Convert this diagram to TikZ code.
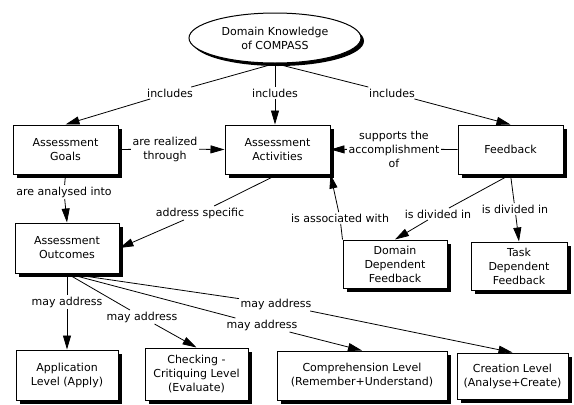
\documentclass[tikz,border=0pt]{standalone}
\usepackage{fontspec}
\setmainfont{DejaVu Sans}
\usetikzlibrary{arrows.meta,shapes.geometric,shadows}
\begin{document}
\begin{tikzpicture}[x=1pt,y=-1pt,
  txt/.style={font=\fontsize{11}{14}\selectfont, align=center},
  sh/.style={drop shadow={shadow xshift=4pt,shadow yshift=-4pt,fill=black,opacity=1}},
  box/.style={txt, draw=black, line width=1pt, fill=white, inner sep=0pt, sh},
  ell/.style={txt, ellipse, draw=black, line width=1pt, fill=white, inner sep=0pt,
     drop shadow={shadow xshift=3pt,shadow yshift=-3pt,fill=black,opacity=1}},
  lab/.style={txt, inner sep=1.5pt},
  con/.style={line width=0.8pt},
  arr/.style={con, -{Triangle[length=14pt,width=8pt]}}
]
\useasboundingbox[fill=white] (0,0) rectangle (574,405);

% concepts
\node[ell, minimum width=172pt, minimum height=50pt] (dk) at (275,38) {Domain Knowledge\\of COMPASS};
\node[box, minimum width=105pt, minimum height=49pt] (goals) at (65.5,149.5) {Assessment\\Goals};
\node[box, minimum width=105pt, minimum height=49pt] (act) at (277.5,149.5) {Assessment\\Activities};
\node[box, minimum width=105pt, minimum height=49pt] (fb) at (510.5,149.5) {Feedback};
\node[box, minimum width=104pt, minimum height=50pt] (out) at (67,248) {Assessment\\Outcomes};
\node[box, minimum width=104pt, minimum height=48pt] (dd) at (395,264) {Domain\\Dependent\\Feedback};
\node[box, minimum width=96pt, minimum height=48pt] (task) at (519,266) {Task\\Dependent\\Feedback};
\node[box, minimum width=102pt, minimum height=50pt] (app) at (67,375) {Application\\Level (Apply)};
\node[box, minimum width=103pt, minimum height=52pt] (chk) at (196.5,374) {Checking -\\Critiquing Level\\(Evaluate)};
\node[box, minimum width=170pt, minimum height=49pt] (comp) at (362,375.5) {Comprehension Level\\(Remember+Understand)};
\node[box, minimum width=111pt, minimum height=46pt] (cre) at (512.5,376) {Creation Level\\(Analyse+Create)};

% linking phrases
\node[lab] (incL) at (170,93) {includes};
\node[lab] (incM) at (275,93) {includes};
\node[lab] (incR) at (392,93) {includes};
\node[lab] (real) at (165,149) {are realized\\through};
\node[lab] (supp) at (394,149) {supports the\\accomplishment\\of};
\node[lab] (anal) at (64,192) {are analysed into};
\node[lab] (addr) at (200,213) {address specific};
\node[lab] (assoc) at (340,218) {is associated with};
\node[lab] (divL) at (438,214) {is divided in};
\node[lab] (divR) at (515,209) {is divided in};
\node[lab] (may1) at (67,302) {may address};
\node[lab] (may2) at (142,317) {may address};
\node[lab] (may3) at (262,325) {may address};
\node[lab] (may4) at (276,304) {may address};

% connections
\draw[con] (dk.south) -- (incL);
\draw[arr] (incL) -- (goals.north);
\draw[con] (dk.south) -- (incM);
\draw[arr] (incM) -- (incM |- act.north);
\draw[con] (dk.south) -- (incR);
\draw[arr] (incR) -- (fb.north);

\draw[con] (goals.east) -- (real);
\draw[arr] (real) -- (act.west);
\draw[con] (fb.west) -- (supp);
\draw[arr] (supp) -- (act.east);

\draw[con] (goals.south) -- (anal);
\draw[arr] (anal) -- (out.north);
\draw[con] (act.south) -- (addr);
\draw[arr] (addr) -- (out.east);

\draw[con] (dd.north west) -- (assoc);
\draw[arr] (assoc) -- (act.south east);
\draw[con] (fb.south) -- (divL);
\draw[arr] (divL) -- (dd.north);
\draw[con] (fb.south) -- (divR);
\draw[arr] (divR) -- (task.north);

\draw[con] (out.south) -- (may1);
\draw[arr] (may1) -- (app.north);
\draw[con] (out.south) -- (may2);
\draw[arr] (may2) -- (chk.north);
\draw[con] (out.south) -- (may3);
\draw[arr] (may3) -- (comp.north);
\draw[con] (out.south) -- (may4);
\draw[arr] (may4) -- (cre.north);
\end{tikzpicture}
\end{document}
